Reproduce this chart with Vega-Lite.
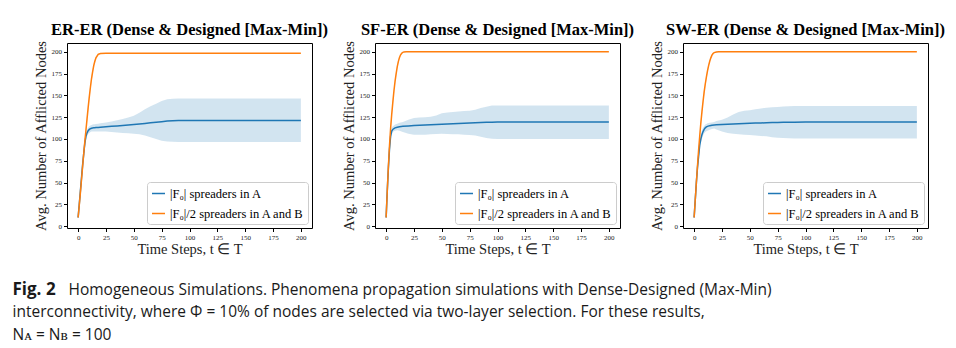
{
  "$schema": "https://vega.github.io/schema/vega-lite/v6.json",
  "background": "white",
  "padding": {"left": 12, "top": 21, "right": 5, "bottom": 5},
  "config": {
    "view": {"stroke": "black", "strokeWidth": 1},
    "axis": {"labelFont": "Liberation Serif", "labelFontSize": 7, "labelColor": "#222", "titleFont": "Liberation Serif", "titleFontSize": 14.5, "titleFontWeight": "normal", "titleColor": "#222", "grid": false, "domain": false, "tickColor": "black", "tickSize": 3.5, "labelPadding": 2},
    "axisX": {"titlePadding": 2},
    "axisY": {"titlePadding": 3}
  },
  "title": {
    "text": ["interconnectivity, where Φ = 10% of nodes are selected via two-layer selection. For these results,", "Nᴀ = Nʙ = 100"],
    "orient": "bottom", "anchor": "start", "offset": 7,
    "font": "Open Sans", "fontSize": 15.5, "fontWeight": "normal", "color": "#1a1a1a", "lineHeight": 22.5
  },
  "datasets": {
    "er": [
      {"s":"A","t":0,"m":10,"lo":9,"hi":11},{"s":"A","t":1,"m":25,"lo":22,"hi":28},{"s":"A","t":2,"m":40,"lo":36,"hi":44},{"s":"A","t":3,"m":55,"lo":50,"hi":60},{"s":"A","t":4,"m":70,"lo":65,"hi":75},{"s":"A","t":5,"m":83,"lo":78,"hi":88},{"s":"A","t":6,"m":95,"lo":90,"hi":99},{"s":"A","t":7,"m":103,"lo":99,"hi":107},{"s":"A","t":8,"m":107,"lo":103,"hi":111},{"s":"A","t":9,"m":109.5,"lo":106,"hi":113},{"s":"A","t":10,"m":111,"lo":107,"hi":114.5},{"s":"A","t":11,"m":111.8,"lo":108,"hi":115.5},{"s":"A","t":12,"m":112.3,"lo":108.5,"hi":116},{"s":"A","t":13,"m":112.6,"lo":108.5,"hi":116.5},{"s":"A","t":14,"m":112.8,"lo":108.5,"hi":117},{"s":"A","t":15,"m":113,"lo":108.5,"hi":117},{"s":"A","t":16,"m":113.1,"lo":108.5,"hi":117.3},{"s":"A","t":18,"m":113.3,"lo":108.5,"hi":117.6},{"s":"A","t":20,"m":113.5,"lo":108.5,"hi":118},{"s":"A","t":25,"m":114,"lo":108.5,"hi":119},{"s":"A","t":30,"m":114.5,"lo":108,"hi":120},{"s":"A","t":35,"m":115,"lo":107.5,"hi":121.5},{"s":"A","t":40,"m":115.5,"lo":107,"hi":123},{"s":"A","t":45,"m":116,"lo":106.5,"hi":124.5},{"s":"A","t":50,"m":116.5,"lo":106,"hi":126.5},{"s":"A","t":55,"m":117.1,"lo":105.5,"hi":130},{"s":"A","t":60,"m":117.8,"lo":104,"hi":134},{"s":"A","t":65,"m":118.5,"lo":102,"hi":137.5},{"s":"A","t":70,"m":119.2,"lo":100,"hi":140.5},{"s":"A","t":75,"m":119.8,"lo":98,"hi":143.5},{"s":"A","t":80,"m":120.5,"lo":97,"hi":145.5},{"s":"A","t":85,"m":121,"lo":96.7,"hi":146.2},{"s":"A","t":90,"m":121.2,"lo":96.5,"hi":146.4},{"s":"A","t":100,"m":121.3,"lo":96.5,"hi":146.4},{"s":"A","t":125,"m":121.3,"lo":96.5,"hi":146.4},{"s":"A","t":150,"m":121.3,"lo":96.5,"hi":146.4},{"s":"A","t":175,"m":121.3,"lo":96.5,"hi":146.4},{"s":"A","t":200,"m":121.3,"lo":96.5,"hi":146.4},
      {"s":"AB","t":0,"m":10,"lo":9,"hi":11},{"s":"AB","t":1,"m":24,"lo":21,"hi":27},{"s":"AB","t":2,"m":38,"lo":34,"hi":42},{"s":"AB","t":3,"m":53,"lo":49,"hi":57},{"s":"AB","t":4,"m":68,"lo":64,"hi":72},{"s":"AB","t":5,"m":83,"lo":79,"hi":87},{"s":"AB","t":6,"m":97,"lo":93,"hi":101},{"s":"AB","t":7,"m":110,"lo":106,"hi":114},{"s":"AB","t":8,"m":123,"lo":119,"hi":127},{"s":"AB","t":9,"m":136,"lo":132,"hi":140},{"s":"AB","t":10,"m":148,"lo":144,"hi":152},{"s":"AB","t":11,"m":159,"lo":155,"hi":163},{"s":"AB","t":12,"m":169,"lo":165,"hi":172},{"s":"AB","t":13,"m":177,"lo":174,"hi":180},{"s":"AB","t":14,"m":184,"lo":181,"hi":186.5},{"s":"AB","t":15,"m":189,"lo":187,"hi":191},{"s":"AB","t":16,"m":193,"lo":191,"hi":195},{"s":"AB","t":17,"m":195,"lo":194,"hi":196.5},{"s":"AB","t":18,"m":197,"lo":196,"hi":198},{"s":"AB","t":20,"m":198,"lo":197.5,"hi":198.5},{"s":"AB","t":25,"m":198.2,"lo":198,"hi":198.4},{"s":"AB","t":50,"m":198.2,"lo":198,"hi":198.4},{"s":"AB","t":100,"m":198.2,"lo":198,"hi":198.4},{"s":"AB","t":150,"m":198.2,"lo":198,"hi":198.4},{"s":"AB","t":200,"m":198.2,"lo":198,"hi":198.4}
    ],
    "sf": [
      {"s":"A","t":0,"m":10,"lo":9,"hi":11},{"s":"A","t":1,"m":40,"lo":36,"hi":44},{"s":"A","t":2,"m":66,"lo":60,"hi":72},{"s":"A","t":3,"m":88,"lo":82,"hi":94},{"s":"A","t":4,"m":103,"lo":98,"hi":108},{"s":"A","t":5,"m":109,"lo":105,"hi":113},{"s":"A","t":6,"m":111,"lo":108,"hi":114.5},{"s":"A","t":7,"m":112,"lo":109,"hi":115.5},{"s":"A","t":8,"m":112.8,"lo":109.5,"hi":116.5},{"s":"A","t":10,"m":113.5,"lo":110,"hi":117.5},{"s":"A","t":12,"m":114,"lo":109.5,"hi":118.5},{"s":"A","t":15,"m":114.5,"lo":108,"hi":119.5},{"s":"A","t":20,"m":115,"lo":106,"hi":122},{"s":"A","t":25,"m":115.5,"lo":105,"hi":124},{"s":"A","t":30,"m":115.8,"lo":105,"hi":124.5},{"s":"A","t":35,"m":116,"lo":105,"hi":125},{"s":"A","t":40,"m":116.3,"lo":105.5,"hi":125.5},{"s":"A","t":45,"m":116.6,"lo":105.8,"hi":127},{"s":"A","t":50,"m":116.9,"lo":106,"hi":129.5},{"s":"A","t":55,"m":117.2,"lo":105.8,"hi":130.5},{"s":"A","t":60,"m":117.5,"lo":105.5,"hi":131},{"s":"A","t":65,"m":117.8,"lo":105.3,"hi":131.5},{"s":"A","t":70,"m":118.1,"lo":105,"hi":132},{"s":"A","t":75,"m":118.4,"lo":104.5,"hi":132.5},{"s":"A","t":80,"m":118.7,"lo":104,"hi":133.5},{"s":"A","t":85,"m":119,"lo":102.5,"hi":135.5},{"s":"A","t":90,"m":119.2,"lo":101,"hi":137},{"s":"A","t":95,"m":119.3,"lo":100.3,"hi":138.3},{"s":"A","t":100,"m":119.4,"lo":100,"hi":138.5},{"s":"A","t":125,"m":119.4,"lo":100,"hi":138.5},{"s":"A","t":150,"m":119.4,"lo":100,"hi":138.5},{"s":"A","t":175,"m":119.4,"lo":100,"hi":138.5},{"s":"A","t":200,"m":119.4,"lo":100,"hi":138.5},
      {"s":"AB","t":0,"m":10,"lo":9,"hi":11},{"s":"AB","t":1,"m":40,"lo":37,"hi":43},{"s":"AB","t":2,"m":68,"lo":64,"hi":72},{"s":"AB","t":3,"m":92,"lo":88,"hi":96},{"s":"AB","t":4,"m":112,"lo":108,"hi":116},{"s":"AB","t":5,"m":128,"lo":124,"hi":132},{"s":"AB","t":6,"m":142,"lo":138,"hi":146},{"s":"AB","t":7,"m":155,"lo":151,"hi":158.5},{"s":"AB","t":8,"m":166,"lo":163,"hi":169},{"s":"AB","t":9,"m":175,"lo":172.5,"hi":177.5},{"s":"AB","t":10,"m":183,"lo":181,"hi":185},{"s":"AB","t":11,"m":189,"lo":187.5,"hi":190.5},{"s":"AB","t":12,"m":193.5,"lo":192.5,"hi":194.5},{"s":"AB","t":13,"m":196.5,"lo":195.8,"hi":197.2},{"s":"AB","t":14,"m":198.3,"lo":197.8,"hi":198.8},{"s":"AB","t":15,"m":199.3,"lo":199,"hi":199.6},{"s":"AB","t":16,"m":199.8,"lo":199.6,"hi":200},{"s":"AB","t":18,"m":200,"lo":200,"hi":200},{"s":"AB","t":25,"m":200,"lo":200,"hi":200},{"s":"AB","t":50,"m":200,"lo":200,"hi":200},{"s":"AB","t":100,"m":200,"lo":200,"hi":200},{"s":"AB","t":150,"m":200,"lo":200,"hi":200},{"s":"AB","t":200,"m":200,"lo":200,"hi":200}
    ],
    "sw": [
      {"s":"A","t":0,"m":10,"lo":9,"hi":11},{"s":"A","t":1,"m":30,"lo":27,"hi":33},{"s":"A","t":2,"m":50,"lo":46,"hi":54},{"s":"A","t":3,"m":67,"lo":62,"hi":72},{"s":"A","t":4,"m":80,"lo":75,"hi":85},{"s":"A","t":5,"m":93,"lo":88,"hi":98},{"s":"A","t":6,"m":100,"lo":95,"hi":105},{"s":"A","t":7,"m":105,"lo":100,"hi":110},{"s":"A","t":8,"m":108.5,"lo":104,"hi":113},{"s":"A","t":9,"m":111,"lo":106.5,"hi":115},{"s":"A","t":10,"m":112.8,"lo":108,"hi":116.5},{"s":"A","t":11,"m":113.8,"lo":109,"hi":117.3},{"s":"A","t":12,"m":114.5,"lo":109.5,"hi":118},{"s":"A","t":14,"m":115.3,"lo":110.5,"hi":118.5},{"s":"A","t":16,"m":115.8,"lo":111.5,"hi":119},{"s":"A","t":18,"m":116.1,"lo":112,"hi":119.5},{"s":"A","t":20,"m":116.3,"lo":111,"hi":120.5},{"s":"A","t":25,"m":116.7,"lo":108.5,"hi":122},{"s":"A","t":30,"m":117,"lo":107,"hi":124.5},{"s":"A","t":35,"m":117.3,"lo":106,"hi":128},{"s":"A","t":40,"m":117.5,"lo":105.5,"hi":131},{"s":"A","t":45,"m":117.8,"lo":105,"hi":132.5},{"s":"A","t":50,"m":118,"lo":104.5,"hi":133},{"s":"A","t":55,"m":118.2,"lo":104,"hi":134},{"s":"A","t":60,"m":118.4,"lo":103.5,"hi":135},{"s":"A","t":65,"m":118.6,"lo":103,"hi":135.8},{"s":"A","t":70,"m":118.8,"lo":102,"hi":136.3},{"s":"A","t":75,"m":119,"lo":101.5,"hi":136.8},{"s":"A","t":80,"m":119.1,"lo":101,"hi":137.2},{"s":"A","t":85,"m":119.2,"lo":100.8,"hi":137.5},{"s":"A","t":90,"m":119.3,"lo":100.6,"hi":137.7},{"s":"A","t":100,"m":119.4,"lo":100.5,"hi":137.8},{"s":"A","t":125,"m":119.4,"lo":100.5,"hi":137.8},{"s":"A","t":150,"m":119.4,"lo":100.5,"hi":137.8},{"s":"A","t":175,"m":119.4,"lo":100.5,"hi":137.8},{"s":"A","t":200,"m":119.4,"lo":100.5,"hi":137.8},
      {"s":"AB","t":0,"m":10,"lo":9,"hi":11},{"s":"AB","t":1,"m":30,"lo":27,"hi":33},{"s":"AB","t":2,"m":50,"lo":46,"hi":54},{"s":"AB","t":3,"m":69,"lo":65,"hi":73},{"s":"AB","t":4,"m":87,"lo":83,"hi":91},{"s":"AB","t":5,"m":103,"lo":99,"hi":107},{"s":"AB","t":6,"m":118,"lo":114,"hi":122},{"s":"AB","t":7,"m":131,"lo":127,"hi":135},{"s":"AB","t":8,"m":143,"lo":139,"hi":147},{"s":"AB","t":9,"m":154,"lo":150,"hi":158},{"s":"AB","t":10,"m":163,"lo":159.5,"hi":166.5},{"s":"AB","t":11,"m":171,"lo":168,"hi":174},{"s":"AB","t":12,"m":178,"lo":175.5,"hi":180.5},{"s":"AB","t":13,"m":184,"lo":182,"hi":186},{"s":"AB","t":14,"m":189,"lo":187.5,"hi":190.5},{"s":"AB","t":15,"m":193,"lo":191.8,"hi":194.2},{"s":"AB","t":16,"m":196,"lo":195,"hi":197},{"s":"AB","t":17,"m":198,"lo":197.3,"hi":198.7},{"s":"AB","t":18,"m":199,"lo":198.5,"hi":199.5},{"s":"AB","t":20,"m":199.7,"lo":199.4,"hi":200},{"s":"AB","t":22,"m":200,"lo":200,"hi":200},{"s":"AB","t":25,"m":200,"lo":200,"hi":200},{"s":"AB","t":50,"m":200,"lo":200,"hi":200},{"s":"AB","t":100,"m":200,"lo":200,"hi":200},{"s":"AB","t":150,"m":200,"lo":200,"hi":200},{"s":"AB","t":200,"m":200,"lo":200,"hi":200}
    ]
  },
  "vconcat": [
    {
      "title": {"text": "Fig. 2", "orient": "bottom", "anchor": "start", "dx": -20, "offset": -16.5, "font": "Open Sans", "fontSize": 17, "fontWeight": "bold", "color": "#1a1a1a"},
      "vconcat": [
        {
          "title": {"text": "Homogeneous Simulations. Phenomena propagation simulations with Dense-Designed (Max-Min)", "orient": "bottom", "anchor": "start", "dx": 36, "offset": 26, "font": "Open Sans", "fontSize": 15.5, "fontWeight": "normal", "color": "#1a1a1a"},
          "bounds": "flush",
          "spacing": 63,
          "resolve": {"scale": {"color": "independent"}, "legend": {"color": "independent"}},
          "hconcat": [
            {
              "width": 245, "height": 185,
              "title": {"text": "ER-ER (Dense & Designed [Max-Min])", "font": "Liberation Serif", "fontSize": 16.5, "fontWeight": "bold", "color": "black", "offset": 2},
              "data": {"name": "er"},
              "encoding": {
                "x": {"field": "t", "type": "quantitative", "scale": {"domain": [-10, 210], "nice": false, "zero": false}, "axis": {"values": [0,25,50,75,100,125,150,175,200], "title": "Time Steps, t ∈ T"}},
                "y": {"field": "m", "type": "quantitative", "scale": {"domain": [-2, 210], "nice": false, "zero": false}, "axis": {"values": [0,25,50,75,100,125,150,175,200], "title": "Avg. Number of Afflicted Nodes"}}
              },
              "layer": [
                {"transform": [{"filter": "datum.s == 'A'"}], "mark": {"type": "area", "color": "#1f77b4", "opacity": 0.2}, "encoding": {"y": {"field": "lo", "type": "quantitative"}, "y2": {"field": "hi"}}},
                {"transform": [{"filter": "datum.s == 'AB'"}], "mark": {"type": "area", "color": "#ff7f0e", "opacity": 0.2}, "encoding": {"y": {"field": "lo", "type": "quantitative"}, "y2": {"field": "hi"}}},
                {"mark": {"type": "line", "strokeWidth": 1.5}, "encoding": {"color": {"field": "s", "type": "nominal", "scale": {"domain": ["A","AB"], "range": ["#1f77b4","#ff7f0e"]}, "legend": {"title": null, "orient": "bottom-right", "symbolType": "stroke", "symbolSize": 170, "symbolStrokeWidth": 1.5, "labelFont": "Liberation Serif", "labelFontSize": 12.5, "labelColor": "black", "fillColor": "white", "strokeColor": "#cccccc", "cornerRadius": 3, "padding": 4, "rowPadding": 6, "offset": 4, "labelLimit": 300, "labelOffset": 4, "labelExpr": "datum.value == 'A' ? '|F₀| spreaders in A' : '|F₀|/2 spreaders in A and B'"}}}}
              ]
            },
            {
              "width": 245, "height": 185,
              "title": {"text": "SF-ER (Dense & Designed [Max-Min])", "font": "Liberation Serif", "fontSize": 16.5, "fontWeight": "bold", "color": "black", "offset": 2},
              "data": {"name": "sf"},
              "encoding": {
                "x": {"field": "t", "type": "quantitative", "scale": {"domain": [-10, 210], "nice": false, "zero": false}, "axis": {"values": [0,25,50,75,100,125,150,175,200], "title": "Time Steps, t ∈ T"}},
                "y": {"field": "m", "type": "quantitative", "scale": {"domain": [-2, 210], "nice": false, "zero": false}, "axis": {"values": [0,25,50,75,100,125,150,175,200], "title": "Avg. Number of Afflicted Nodes"}}
              },
              "layer": [
                {"transform": [{"filter": "datum.s == 'A'"}], "mark": {"type": "area", "color": "#1f77b4", "opacity": 0.2}, "encoding": {"y": {"field": "lo", "type": "quantitative"}, "y2": {"field": "hi"}}},
                {"transform": [{"filter": "datum.s == 'AB'"}], "mark": {"type": "area", "color": "#ff7f0e", "opacity": 0.2}, "encoding": {"y": {"field": "lo", "type": "quantitative"}, "y2": {"field": "hi"}}},
                {"mark": {"type": "line", "strokeWidth": 1.5}, "encoding": {"color": {"field": "s", "type": "nominal", "scale": {"domain": ["A","AB"], "range": ["#1f77b4","#ff7f0e"]}, "legend": {"title": null, "orient": "bottom-right", "symbolType": "stroke", "symbolSize": 170, "symbolStrokeWidth": 1.5, "labelFont": "Liberation Serif", "labelFontSize": 12.5, "labelColor": "black", "fillColor": "white", "strokeColor": "#cccccc", "cornerRadius": 3, "padding": 4, "rowPadding": 6, "offset": 4, "labelLimit": 300, "labelOffset": 4, "labelExpr": "datum.value == 'A' ? '|F₀| spreaders in A' : '|F₀|/2 spreaders in A and B'"}}}}
              ]
            },
            {
              "width": 245, "height": 185,
              "title": {"text": "SW-ER (Dense & Designed [Max-Min])", "font": "Liberation Serif", "fontSize": 16.5, "fontWeight": "bold", "color": "black", "offset": 2},
              "data": {"name": "sw"},
              "encoding": {
                "x": {"field": "t", "type": "quantitative", "scale": {"domain": [-10, 210], "nice": false, "zero": false}, "axis": {"values": [0,25,50,75,100,125,150,175,200], "title": "Time Steps, t ∈ T"}},
                "y": {"field": "m", "type": "quantitative", "scale": {"domain": [-2, 210], "nice": false, "zero": false}, "axis": {"values": [0,25,50,75,100,125,150,175,200], "title": "Avg. Number of Afflicted Nodes"}}
              },
              "layer": [
                {"transform": [{"filter": "datum.s == 'A'"}], "mark": {"type": "area", "color": "#1f77b4", "opacity": 0.2}, "encoding": {"y": {"field": "lo", "type": "quantitative"}, "y2": {"field": "hi"}}},
                {"transform": [{"filter": "datum.s == 'AB'"}], "mark": {"type": "area", "color": "#ff7f0e", "opacity": 0.2}, "encoding": {"y": {"field": "lo", "type": "quantitative"}, "y2": {"field": "hi"}}},
                {"mark": {"type": "line", "strokeWidth": 1.5}, "encoding": {"color": {"field": "s", "type": "nominal", "scale": {"domain": ["A","AB"], "range": ["#1f77b4","#ff7f0e"]}, "legend": {"title": null, "orient": "bottom-right", "symbolType": "stroke", "symbolSize": 170, "symbolStrokeWidth": 1.5, "labelFont": "Liberation Serif", "labelFontSize": 12.5, "labelColor": "black", "fillColor": "white", "strokeColor": "#cccccc", "cornerRadius": 3, "padding": 4, "rowPadding": 6, "offset": 4, "labelLimit": 300, "labelOffset": 4, "labelExpr": "datum.value == 'A' ? '|F₀| spreaders in A' : '|F₀|/2 spreaders in A and B'"}}}}
              ]
            }
          ]
        }
      ]
    }
  ]
}
